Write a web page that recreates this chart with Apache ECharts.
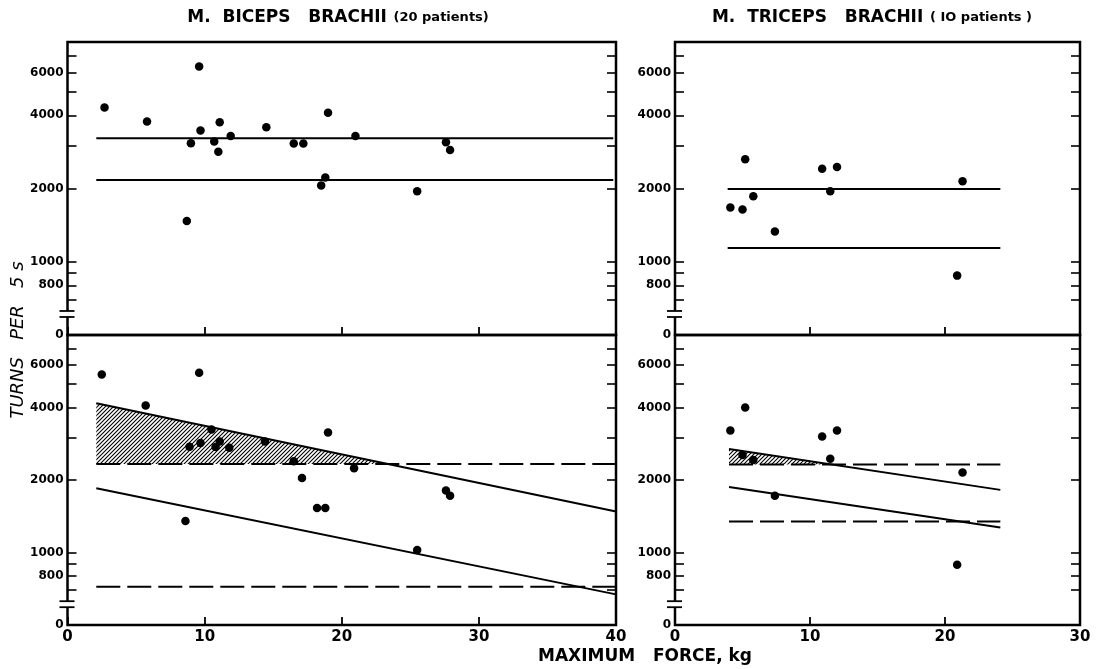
<!DOCTYPE html>
<html><head><meta charset="utf-8">
<script src="https://cdn.jsdelivr.net/npm/echarts@6/dist/echarts.min.js"></script>
<style>html,body{margin:0;padding:0;background:#fff}#c{width:1105px;height:669px}</style>
</head><body><div id="c"></div>
<script>
// ---------------- DATA ----------------
const bicepsTopX = [2.7, 5.8, 8.7, 9.0, 9.6, 9.7, 10.7, 11.0, 11.1, 11.9, 14.5, 16.5, 17.2, 18.5, 18.8, 19.0, 21.0, 25.5, 27.6, 27.9];
const bicepsTopY = [4300, 3770, 1470, 3070, 6350, 3460, 3120, 2830, 3740, 3290, 3570, 3060, 3060, 2060, 2220, 4100, 3290, 1950, 3100, 2880];

const bicepsBottomX = [2.5, 5.7, 8.6, 8.9, 9.6, 9.7, 10.5, 10.8, 11.1, 11.8, 14.4, 16.5, 17.1, 18.2, 18.8, 19.0, 20.9, 25.5, 27.6, 27.9];
const bicepsBottomY = [5480, 4080, 1350, 2750, 5570, 2850, 3240, 2740, 2890, 2720, 2890, 2390, 2040, 1530, 1530, 3150, 2240, 1025, 1810, 1720];

const tricepsTopX = [4.1, 5.0, 5.2, 5.8, 7.4, 10.9, 11.5, 12.0, 20.9, 21.3];
const tricepsTopY = [1670, 1640, 2640, 1860, 1330, 2410, 1950, 2450, 877, 2140];

const tricepsBottomX = [4.1, 5.0, 5.2, 5.8, 7.4, 10.9, 11.5, 12.0, 20.9, 21.3];
const tricepsBottomY = [3210, 2540, 4000, 2420, 1720, 3030, 2450, 3210, 890, 2150];

// reference lines (start x, end x) and values at those ends
const bicepsTopLineX = [2.1, 39.8];
const bicepsTopUpper = [3220, 3220];
const bicepsTopLower = [2170, 2170];

const bicepsBottomLineX = [2.1, 40];
const bicepsBottomUpperSolid = [4170, 1480];
const bicepsBottomLowerSolid = [1850, 670];
const bicepsBottomUpperDash = [2330, 2330];
const bicepsBottomLowerDash = [720, 720];

const tricepsTopLineX = [3.9, 24.1];
const tricepsTopUpper = [1990, 1990];
const tricepsTopLower = [1140, 1140];

const tricepsBottomLineX = [4.0, 24.1];
const tricepsBottomUpperSolid = [2690, 1820];
const tricepsBottomLowerSolid = [1870, 1270];
const tricepsBottomUpperDash = [2320, 2320];
const tricepsBottomLowerDash = [1345, 1345];

// axes
const Y_MIN = 500, Y_MAX = 8000, Y_BREAK = 610;
const yTickValues = [700, 800, 900, 1000, 2000, 3000, 4000, 5000, 6000, 7000];
const yLabelValues = [500, 800, 1000, 2000, 4000, 6000];
const xMaxBiceps = 40, xMaxTriceps = 30;

const titleBiceps = ['M.  BICEPS   BRACHII', '(20 patients)'];
const titleTriceps = ['M.  TRICEPS   BRACHII', '( IO patients )'];
const yName = 'TURNS   PER   5 s';
const xName = 'MAXIMUM   FORCE, kg';

// ---------------- CHART ----------------
const chart = echarts.init(document.getElementById('c'));

const hatch = document.createElement('canvas');
hatch.width = 4; hatch.height = 4;
(function(){
  const g = hatch.getContext('2d');
  g.strokeStyle = '#000'; g.lineWidth = 1.1;
  g.beginPath();
  g.moveTo(-1, 5); g.lineTo(5, -1);
  g.moveTo(-1, 1); g.lineTo(1, -1);
  g.moveTo(3, 5); g.lineTo(5, 3);
  g.stroke();
})();
const hatchPattern = { image: hatch, repeat: 'repeat' };

const FONT = 'DejaVu Sans';
const grids = [
  { left: 67.5, top: 42, width: 548.5, height: 293 },
  { left: 67.5, top: 335, width: 548.5, height: 290 },
  { left: 675, top: 42, width: 405, height: 293 },
  { left: 675, top: 335, width: 405, height: 290 }
].map(g => Object.assign({ show: true, borderColor: '#000', borderWidth: 2.5, backgroundColor: 'transparent', outerBoundsMode: 'none' }, g));

function xAx(grid, max, labels) {
  return {
    type: 'value', gridIndex: grid, min: 0, max: max, interval: 10,
    axisLine: { show: false }, splitLine: { show: false },
    axisTick: { show: true, inside: true, length: 8, lineStyle: { color: '#000', width: 1.8 } },
    axisLabel: { show: labels, color: '#000', fontFamily: FONT, fontSize: 15, fontWeight: 'bold', margin: 5 }
  };
}
function yAx(grid, pos) {
  return {
    type: 'log', logBase: 10, gridIndex: grid, position: pos, min: Y_MIN, max: Y_MAX,
    axisLine: { show: false }, splitLine: { show: false }, minorTick: { show: false },
    axisTick: { show: true, inside: true, length: 9, lineStyle: { color: '#000', width: 1.6 }, customValues: yTickValues },
    axisLabel: {
      show: pos === 'left', customValues: yLabelValues, color: '#000', fontFamily: FONT,
      fontSize: 12, fontWeight: 'bold', margin: 4,
      formatter: v => (Math.abs(v - Y_MIN) < 1 ? '0' : String(Math.round(v)))
    }
  };
}

const xAxes = [xAx(0, xMaxBiceps, false), xAx(1, xMaxBiceps, true), xAx(2, xMaxTriceps, false), xAx(3, xMaxTriceps, true)];
const yAxes = [yAx(0, 'left'), yAx(1, 'left'), yAx(2, 'left'), yAx(3, 'left'),
               yAx(0, 'right'), yAx(1, 'right'), yAx(2, 'right'), yAx(3, 'right')];

const zip = (xs, ys) => xs.map((x, i) => [x, ys[i]]);

function scatter(idx, xs, ys) {
  return { type: 'scatter', xAxisIndex: idx, yAxisIndex: idx, data: zip(xs, ys),
    symbol: 'circle', symbolSize: 8.5, itemStyle: { color: '#000', opacity: 1 }, z: 5, silent: true };
}
function line(idx, xs, ys, dashed) {
  return { type: 'line', xAxisIndex: idx, yAxisIndex: idx, data: zip(xs, ys), symbol: 'none',
    lineStyle: { color: '#000', width: 2, type: dashed ? [24, 7] : 'solid' }, z: 4, silent: true, animation: false };
}
function hatchArea(idx, xs, top, base) {
  const lt0 = Math.log10(top[0]), lt1 = Math.log10(top[1]), lb = Math.log10(base[0]);
  const xi = xs[0] + (lt0 - lb) / (lt0 - lt1) * (xs[1] - xs[0]);
  return {
    type: 'custom', xAxisIndex: idx, yAxisIndex: idx, silent: true, z: 3, animation: false,
    data: [[xs[0], top[0], xi, base[0]]],
    renderItem: (params, api) => {
      const p1 = api.coord([api.value(0), api.value(1)]);
      const p2 = api.coord([api.value(2), api.value(3)]);
      const p3 = api.coord([api.value(0), api.value(3)]);
      return { type: 'polygon', shape: { points: [p1, p2, p3] }, style: { fill: hatchPattern, stroke: null } };
    }
  };
}
function breakMark(idx) {
  return {
    type: 'custom', xAxisIndex: idx, yAxisIndex: idx, silent: true, z: 10, clip: false, animation: false,
    data: [[0, Y_BREAK]],
    renderItem: (params, api) => {
      const p = api.coord([api.value(0), api.value(1)]);
      return { type: 'group', children: [
        { type: 'rect', shape: { x: p[0] - 3, y: p[1] - 3, width: 6, height: 6 }, style: { fill: '#fff' } },
        { type: 'line', shape: { x1: p[0] - 8, y1: p[1] - 3, x2: p[0] + 7, y2: p[1] - 3 }, style: { stroke: '#000', lineWidth: 1.8 } },
        { type: 'line', shape: { x1: p[0] - 8, y1: p[1] + 3, x2: p[0] + 7, y2: p[1] + 3 }, style: { stroke: '#000', lineWidth: 1.8 } }
      ] };
    }
  };
}

const series = [
  scatter(0, bicepsTopX, bicepsTopY),
  line(0, bicepsTopLineX, bicepsTopUpper, false),
  line(0, bicepsTopLineX, bicepsTopLower, false),
  breakMark(0),

  scatter(1, bicepsBottomX, bicepsBottomY),
  hatchArea(1, bicepsBottomLineX, bicepsBottomUpperSolid, bicepsBottomUpperDash),
  line(1, bicepsBottomLineX, bicepsBottomUpperSolid, false),
  line(1, bicepsBottomLineX, bicepsBottomLowerSolid, false),
  line(1, bicepsBottomLineX, bicepsBottomUpperDash, true),
  line(1, bicepsBottomLineX, bicepsBottomLowerDash, true),
  breakMark(1),

  scatter(2, tricepsTopX, tricepsTopY),
  line(2, tricepsTopLineX, tricepsTopUpper, false),
  line(2, tricepsTopLineX, tricepsTopLower, false),
  breakMark(2),

  scatter(3, tricepsBottomX, tricepsBottomY),
  hatchArea(3, tricepsBottomLineX, tricepsBottomUpperSolid, tricepsBottomUpperDash),
  line(3, tricepsBottomLineX, tricepsBottomUpperSolid, false),
  line(3, tricepsBottomLineX, tricepsBottomLowerSolid, false),
  line(3, tricepsBottomLineX, tricepsBottomUpperDash, true),
  line(3, tricepsBottomLineX, tricepsBottomLowerDash, true),
  breakMark(3)
];

function titleText(cx, parts) {
  return {
    type: 'text', x: cx, y: 18, z: 20,
    style: {
      text: '{a|' + parts[0] + '}  {b|' + parts[1] + '}',
      align: 'center', verticalAlign: 'middle',
      rich: {
        a: { fontFamily: FONT, fontSize: 17, fontWeight: 'bold', fill: '#000' },
        b: { fontFamily: FONT, fontSize: 13, fontWeight: 'bold', fill: '#000' }
      }
    }
  };
}

chart.setOption({
  animation: false,
  backgroundColor: '#fff',
  grid: grids,
  xAxis: xAxes,
  yAxis: yAxes,
  series: series,
  graphic: [
    titleText(338, titleBiceps),
    titleText(872, titleTriceps),
    { type: 'text', x: 18, y: 340, rotation: Math.PI / 2, z: 20,
      style: { text: yName, fontFamily: FONT, fontSize: 18, fontStyle: 'italic', fill: '#000', align: 'center', verticalAlign: 'middle' } },
    { type: 'text', x: 645, y: 657, z: 20,
      style: { text: xName, fontFamily: FONT, fontSize: 17, fontWeight: 'bold', fill: '#000', align: 'center', verticalAlign: 'middle' } }
  ]
});
</script>
</body></html>
